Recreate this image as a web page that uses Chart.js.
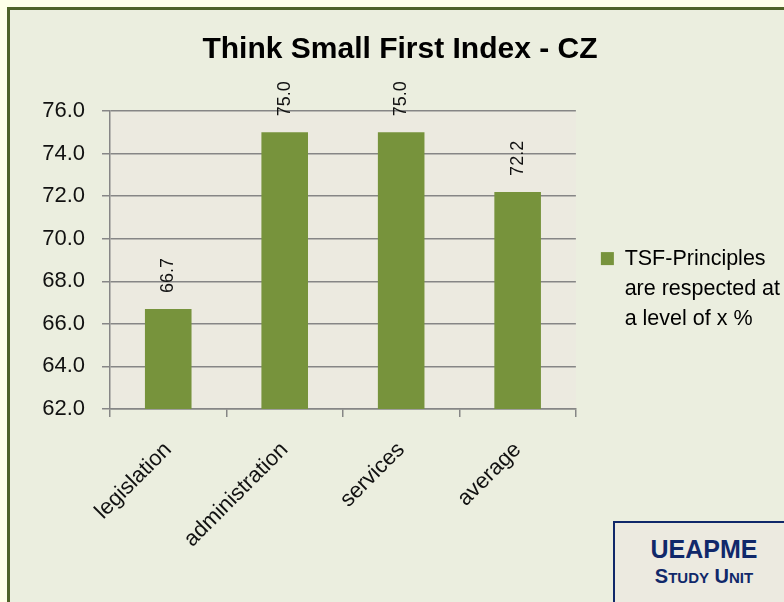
<!DOCTYPE html>
<html>
<head>
<meta charset="utf-8">
<script src="https://cdn.jsdelivr.net/npm/chart.js@4.4.1/dist/chart.umd.min.js"></script>
<style>
  html, body { margin: 0; padding: 0; width: 784px; height: 602px; overflow: hidden; background: #ffffe9; }
  #frame {
    position: absolute; left: 7px; top: 7px; width: 900px; height: 700px;
    border: 3px solid #4f6228; background: #ebeedf;
  }
  #wrap { position: absolute; left: 0; top: 0; width: 790px; height: 602px; }
  #badge {
    position: absolute; left: 613px; top: 521px; width: 178px; height: 100px;
    border: 2px solid #10286a; background: #eceae0; color: #10286a;
    font-family: "Liberation Sans", Arial, sans-serif; font-weight: bold; text-align: center;
  }
  #badge .big { font-size: 25px; margin-top: 12px; line-height: 28px; }
  #badge .small { font-size: 20px; line-height: 26px; }
  #badge .small span { font-size: 15px; }
</style>
</head>
<body>
<div id="frame"></div>
<div id="wrap"><canvas id="tsfChart" width="790" height="602"></canvas></div>
<div id="badge">
  <div class="big">UEAPME</div>
  <div class="small">S<span>TUDY</span> U<span>NIT</span></div>
</div>

<script>
// Data //

const categories = ['legislation', 'administration', 'services', 'average'];
const tsfValues = [66.7, 75.0, 75.0, 72.2];
const legendLines = ['TSF-Principles', 'are respected at', 'a level of x %'];
const yMin = 62;
const yMax = 76;
const yStep = 2;

const barColor = '#77933c';
const gridColor = '#868686';
const fontFamily = '"Liberation Sans", Arial, sans-serif';

// plot area background
const plotBackground = {
  id: 'plotBackground',
  beforeDraw(chart) {
    const {ctx, chartArea} = chart;
    ctx.save();
    ctx.fillStyle = '#eceae0';
    ctx.fillRect(chartArea.left, chartArea.top, chartArea.width, chartArea.height);
    ctx.restore();
  }
};

// rotated value labels above the bars
const barLabels = {
  id: 'barLabels',
  afterDatasetsDraw(chart) {
    const {ctx} = chart;
    const meta = chart.getDatasetMeta(0);
    ctx.save();
    ctx.font = '18px ' + fontFamily;
    ctx.fillStyle = '#111';
    ctx.textAlign = 'left';
    ctx.textBaseline = 'middle';
    meta.data.forEach((bar, i) => {
      ctx.save();
      ctx.translate(bar.x, bar.y - 16);
      ctx.rotate(-Math.PI / 2);
      ctx.fillText(tsfValues[i].toFixed(1), 0, 0);
      ctx.restore();
    });
    ctx.restore();
  }
};

let tsfChart = null;

document.addEventListener('DOMContentLoaded', () => {
  const ctx = document.querySelector('#tsfChart').getContext('2d');

  tsfChart = new Chart(ctx, {
    type: 'bar',
    data: {
      labels: categories,
      datasets: [{
        label: legendLines.join(' '),
        data: tsfValues,
        backgroundColor: barColor,
        borderWidth: 0,
        categoryPercentage: 1,
        barPercentage: 0.4
      }]
    },
    options: {
      responsive: false,
      animation: false,
      layout: { padding: { left: 10, right: 0, top: 0, bottom: 16 } },
      plugins: {
        title: {
          display: true,
          text: 'Think Small First Index - CZ',
          color: '#000',
          font: { family: fontFamily, size: 30, weight: 'bold', lineHeight: 1.2 },
          padding: { top: 32, bottom: 43 }
        },
        legend: {
          position: 'right',
          maxWidth: 260,
          labels: {
            boxWidth: 13,
            boxHeight: 13,
            padding: 25,
            color: '#000',
            font: { family: fontFamily, size: 21.5, lineHeight: 1.4 },
            generateLabels: () => [{
              text: legendLines,
              fillStyle: barColor,
              strokeStyle: barColor,
              lineWidth: 0,
              datasetIndex: 0
            }]
          }
        },
        tooltip: { enabled: false }
      },
      scales: {
        x: {
          afterFit: s => { s.height = 177; },
          grid: { offset: true, drawOnChartArea: false, tickLength: 8, color: gridColor, lineWidth: 1.5 },
          border: { color: gridColor, width: 1.5 },
          ticks: {
            color: '#111',
            font: { family: fontFamily, size: 22 },
            minRotation: 45,
            maxRotation: 45,
            padding: 20
          }
        },
        y: {
          min: yMin,
          max: yMax,
          afterFit: s => { s.width = 100; },
          grid: { tickLength: 8, color: gridColor, lineWidth: 1.5 },
          border: { color: gridColor, width: 1.5 },
          ticks: {
            stepSize: yStep,
            color: '#111',
            padding: 17,
            font: { family: fontFamily, size: 22 },
            callback: v => v.toFixed(1)
          }
        }
      }
    },
    plugins: [plotBackground, barLabels]
  });
});
</script>
</body>
</html>
